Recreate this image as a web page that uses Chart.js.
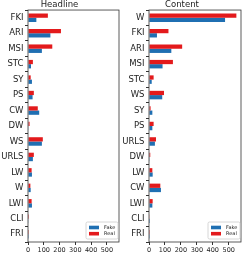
<!DOCTYPE html>
<html>
<head>
<meta charset="utf-8">
<script src="https://cdn.jsdelivr.net/npm/chart.js@4/dist/chart.umd.min.js"></script>
<style>
  body { margin: 0; background: #fff; }
  #wrap { position: relative; width: 246px; height: 255px; }
  canvas { position: absolute; top: 0; }
</style>
</head>
<body>
<div id="wrap">
  <canvas id="chartHeadline" width="123" height="255" style="left:0"></canvas>
  <canvas id="chartContent" width="123" height="255" style="left:123px"></canvas>
</div>
<script>
// --- data ---
const headlineLabels = ["FKI", "ARI", "MSI", "STC", "SY", "PS", "CW", "DW", "WS", "URLS", "LW", "W", "LWI", "CLI", "FRI"];
const headlineFake = [53, 142, 88, 19, 25, 29, 71, 4, 88, 31, 25, 17, 25, 4, 1];
const headlineReal = [126, 209, 154, 31, 17, 37, 62, 10, 94, 37, 23, 15, 23, 6, 1];

const contentLabels = ["W", "FKI", "ARI", "MSI", "STC", "WS", "SY", "PS", "URLS", "DW", "LW", "CW", "LWI", "CLI", "FRI"];
const contentFake = [477, 50, 140, 85, 17, 83, 21, 21, 37, 2, 23, 75, 21, 6, 1];
const contentReal = [548, 122, 208, 150, 29, 94, 10, 29, 44, 8, 21, 71, 23, 4, 1];

const xTicks = [0, 100, 200, 300, 400, 500];
const xMax = 577;

const FAKE_COLOR = "#1f6fb2";
const REAL_COLOR = "#e31a1c";
const FONT = "'DejaVu Sans', sans-serif";

// frame (all four spines) around the plot area
const framePlugin = {
  id: "frame",
  afterDraw(chart) {
    const { ctx, chartArea: a } = chart;
    ctx.save();
    ctx.strokeStyle = "#333";
    ctx.lineWidth = 0.8;
    ctx.strokeRect(a.left, a.top, a.right - a.left, a.bottom - a.top);
    ctx.restore();
  },
};

// small legend box in the lower right corner, Fake listed first
const cornerLegend = {
  id: "cornerLegend",
  afterDraw(chart) {
    const { ctx, chartArea: a } = chart;
    const items = [
      { label: "Fake", color: FAKE_COLOR },
      { label: "Real", color: REAL_COLOR },
    ];
    const w = 32, h = 17;
    const x = a.right - w - 1, y = a.bottom - h - 3;
    ctx.save();
    ctx.fillStyle = "rgba(255,255,255,0.9)";
    ctx.strokeStyle = "#ccc";
    ctx.lineWidth = 0.8;
    ctx.beginPath();
    ctx.roundRect(x, y, w, h, 1.5);
    ctx.fill();
    ctx.stroke();
    ctx.font = "5px " + FONT;
    ctx.textBaseline = "middle";
    items.forEach((it, i) => {
      const cy = y + 5.5 + i * 6.2;
      ctx.fillStyle = it.color;
      ctx.fillRect(x + 3, cy - 1.8, 10, 3.6);
      ctx.fillStyle = "#222";
      ctx.fillText(it.label, x + 18, cy);
    });
    ctx.restore();
  },
};

function makeChart(id, title, labels, fake, real, yWidth, padRight) {
  const ctx = document.getElementById(id).getContext("2d");
  return new Chart(ctx, {
    type: "bar",
    data: {
      labels: labels,
      datasets: [
        { label: "Real", data: real, backgroundColor: REAL_COLOR },
        { label: "Fake", data: fake, backgroundColor: FAKE_COLOR },
      ],
    },
    options: {
      indexAxis: "y",
      responsive: false,
      animation: false,
      devicePixelRatio: 1,
      categoryPercentage: 0.55,
      barPercentage: 1.0,
      layout: { padding: { left: 0, right: padRight, top: 0, bottom: 0 } },
      plugins: {
        legend: { display: false },
        tooltip: { enabled: false },
        title: {
          display: true,
          text: title,
          color: "#222",
          font: { family: FONT, size: 8.5, weight: "normal", lineHeight: 1.18 },
          padding: { top: 0, bottom: 0 },
        },
      },
      scales: {
        x: {
          min: 0,
          max: xMax,
          afterBuildTicks: (scale) => { scale.ticks = xTicks.map((v) => ({ value: v })); },
          afterFit: (scale) => { scale.height = 13; },
          grid: { drawOnChartArea: false, drawTicks: true, tickLength: 3, color: "#333" },
          border: { display: false },
          ticks: { color: "#222", padding: 1, maxRotation: 0, font: { family: FONT, size: 6.5 } },
        },
        y: {
          afterFit: (scale) => { scale.width = yWidth; },
          grid: { drawOnChartArea: false, drawTicks: true, tickLength: 3, color: "#333" },
          border: { display: false },
          ticks: { color: "#222", padding: 1.5, font: { family: FONT, size: 8.5 } },
        },
      },
    },
    plugins: [framePlugin, cornerLegend],
  });
}

makeChart("chartHeadline", "Headline", headlineLabels, headlineFake, headlineReal, 28, 4);
makeChart("chartContent", "Content", contentLabels, contentFake, contentReal, 26, 5);
</script>
</body>
</html>
